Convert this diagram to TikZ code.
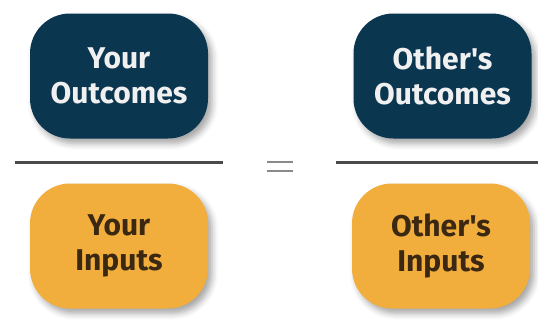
\documentclass[tikz,border=0pt]{standalone}
\usepackage{fontspec}
\setmainfont{Fira Sans}[Ligatures=TeXOff]
\usetikzlibrary{shadows.blur}
\definecolor{navy}{HTML}{0A3650}
\definecolor{amber}{HTML}{F2AE3C}
\definecolor{ink}{HTML}{3A2812}
\definecolor{rule}{HTML}{4A4A4A}
\definecolor{eqgray}{HTML}{8A8A8A}
\begin{document}
\begin{tikzpicture}[x=1pt,y=-1pt,
  termbox/.style={rounded corners=40pt, minimum width=178pt, minimum height=125pt,
    align=center, inner sep=0pt,
    font=\fontsize{30}{35}\selectfont\bfseries,
    blur shadow={shadow xshift=4pt, shadow yshift=-5pt, shadow blur radius=6pt, shadow opacity=35}},
  outbox/.style={termbox, fill=navy, text=white!94!black},
  inbox/.style={termbox, fill=amber, text=ink},
  fracline/.style={draw=rule, line width=3.5pt},
  eqbar/.style={draw=eqgray, line width=2.5pt}]
  \useasboundingbox (0,0) rectangle (538,322);
  % numerators
  \node[outbox] (yo) at (119,76) {Your\\Outcomes};
  \node[outbox] (oo) at (442.5,76) {Other's\\Outcomes};
  % fraction bars
  \coordinate (l1) at (15,162.5);
  \coordinate (l2) at (223,162.5);
  \coordinate (r1) at (336,162.5);
  \coordinate (r2) at (538,162.5);
  \draw[fracline] (l1) -- (l2);
  \draw[fracline] (r1) -- (r2);
  % equals sign
  \coordinate (e1) at (267,162);
  \coordinate (e2) at (293,162);
  \coordinate (e3) at (267,171);
  \coordinate (e4) at (293,171);
  \draw[eqbar] (e1) -- (e2);
  \draw[eqbar] (e3) -- (e4);
  % denominators
  \node[inbox] (yi) at (119,246) {Your\\Inputs};
  \node[inbox] (oi) at (441,246) {Other's\\Inputs};
\end{tikzpicture}
\end{document}
